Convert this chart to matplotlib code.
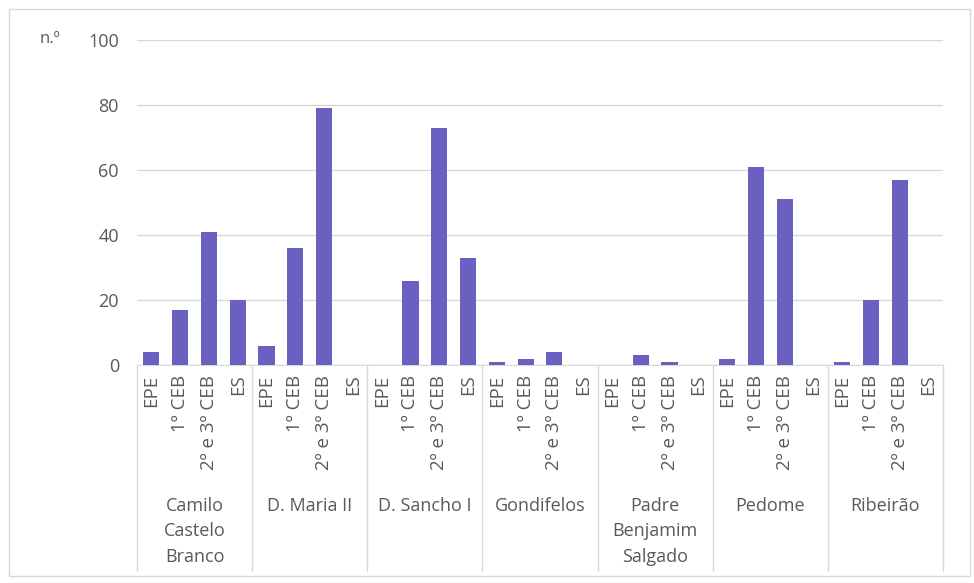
import matplotlib.pyplot as plt
from matplotlib.patches import Rectangle
import numpy as np

plt.rcParams['font.family'] = ['Open Sans', 'DejaVu Sans']

escolas = ['Camilo\nCastelo\nBranco', 'D. Maria II', 'D. Sancho I', 'Gondifelos',
           'Padre\nBenjamim\nSalgado', 'Pedome', 'Ribeirão']
niveis = ['EPE', '1º CEB', '2º e 3º CEB', 'ES']

epe = [4, 6, 0, 1, 0, 2, 1]
ceb1 = [17, 36, 26, 2, 3, 61, 20]
ceb23 = [41, 79, 73, 4, 1, 51, 57]
es = [20, 0, 33, 0, 0, 0, 0]

cor_barra = '#6A60C2'
cor_texto = '#595959'
cor_linha = '#D9D9D9'

valores = []
rotulos = []
for i in range(len(escolas)):
    valores += [epe[i], ceb1[i], ceb23[i], es[i]]
    rotulos += niveis

x = np.arange(len(valores))

fig = plt.figure(figsize=(9.74, 5.83), dpi=100)
fig.patches.append(Rectangle((9 / 974, 1 - 576 / 583), 961 / 974, 567 / 583,
                             transform=fig.transFigure, fill=False,
                             edgecolor=cor_linha, linewidth=1))

ax = fig.add_axes([137 / 974, (583 - 365) / 583, (943 - 137) / 974, 325 / 583])
ax.bar(x, valores, width=0.56, color=cor_barra, zorder=3)

ax.set_xlim(-0.5, len(valores) - 0.5)
ax.set_ylim(0, 100)
ax.set_yticks(range(0, 101, 20))
ax.grid(axis='y', color=cor_linha, linewidth=1, zorder=0)
for s in ['top', 'right', 'left']:
    ax.spines[s].set_visible(False)
ax.spines['bottom'].set_color(cor_linha)

ax.set_xticks(x)
ax.set_xticklabels(rotulos, rotation=90, fontsize=13.5, color=cor_texto)
ax.tick_params(axis='x', length=0, pad=7)
ax.tick_params(axis='y', length=0, pad=13, labelsize=13, labelcolor=cor_texto)

trans = ax.get_xaxis_transform()
for k in range(len(escolas) + 1):
    ax.plot([4 * k - 0.5, 4 * k - 0.5], [0, -0.635], transform=trans,
            color=cor_linha, linewidth=1, clip_on=False)
for i, nome in enumerate(escolas):
    ax.text(4 * i + 1.5, -0.405, nome, transform=trans, ha='center', va='top',
            fontsize=13, color=cor_texto, linespacing=1.55)

fig.text(40 / 974, 1 - 39 / 583, 'n.º', fontsize=12, color=cor_texto,
         ha='left', va='center')

fig.savefig('out.png', dpi=100)
